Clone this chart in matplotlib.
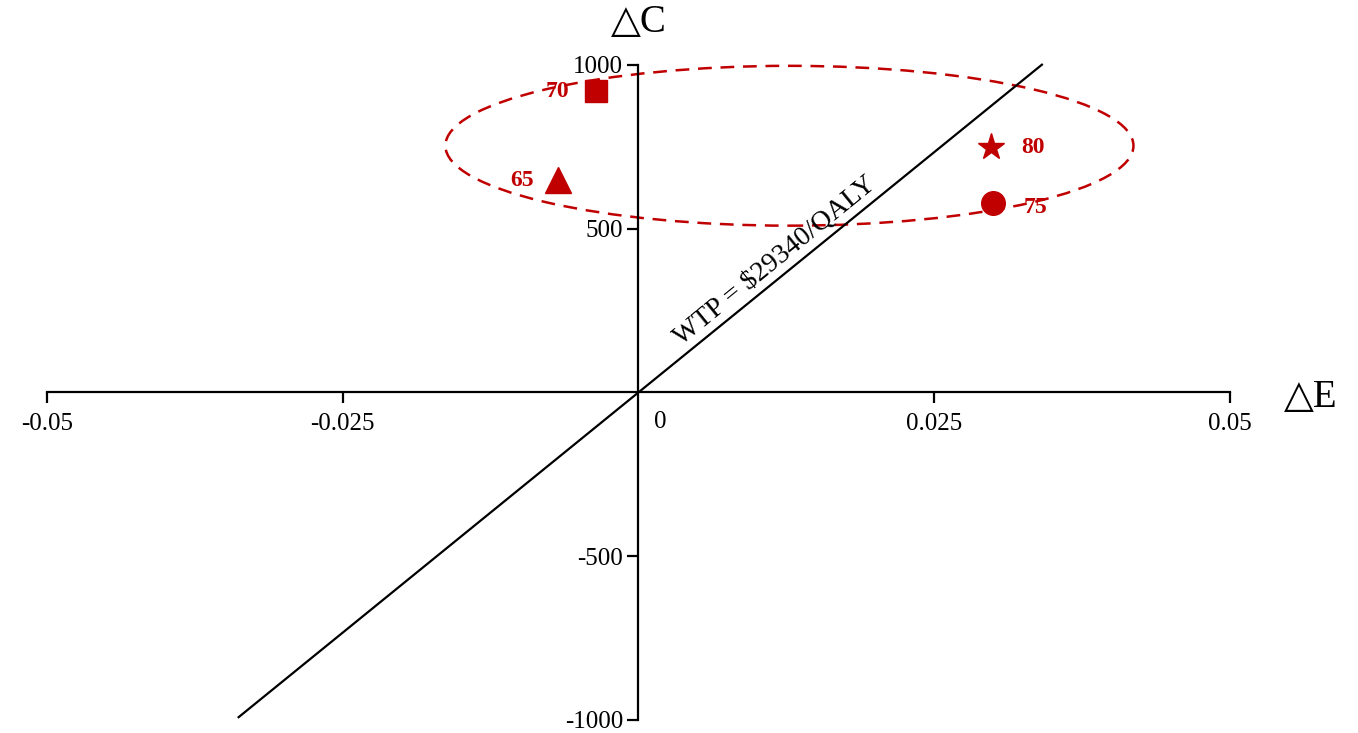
import matplotlib
matplotlib.use('Agg')
import matplotlib.pyplot as plt
from matplotlib.patches import Ellipse

plt.rcParams['font.family'] = ['Liberation Serif', 'DejaVu Sans']

# age groups: incremental effect (QALY) and incremental cost
ages = ['65', '70', '75', '80']
delta_e = [-0.0068, -0.0036, 0.0300, 0.0298]
delta_c = [648, 920, 578, 749]
markers = ['^', 's', 'o', '*']
msizes = [19, 16, 17, 20]
label_off = [(-26, 0), (-28, 0), (30, -3), (30, 0)]

wtp = 29340
wtp_x = [-0.0338, 0.0341]

xticks = [-0.05, -0.025, 0.025, 0.05]
xticklabels = ['-0.05', '-0.025', '0.025', '0.05']
yticks = [-1000, -500, 500, 1000]
yticklabels = ['-1000', '-500', '500', '1000']

red = '#C00000'

fig = plt.figure(figsize=(13.58, 7.33), dpi=100)
ax = fig.add_axes([0, 0, 1, 1])
ax.set_xlim(-0.05397, 0.06082)
ax.set_ylim(-1040, 1198)

for s in ['top', 'right']:
    ax.spines[s].set_visible(False)
ax.spines['left'].set_position(('data', 0))
ax.spines['bottom'].set_position(('data', 0))
ax.spines['left'].set_bounds(-1000, 1000)
ax.spines['bottom'].set_bounds(-0.05, 0.05)
ax.spines['left'].set_linewidth(1.6)
ax.spines['bottom'].set_linewidth(1.6)

ax.set_xticks(xticks)
ax.set_xticklabels(xticklabels)
ax.set_yticks(yticks)
ax.set_yticklabels(yticklabels)
ax.tick_params(axis='both', direction='out', length=8, width=1.6, labelsize=18, pad=3)
ax.tick_params(axis='x', pad=7)
ax.text(0.0013, -90, '0', fontsize=18, ha='left', va='center')

# WTP threshold line
ax.plot(wtp_x, [x * wtp for x in wtp_x], color='k', lw=1.6)
ax.text(0.01158, 402, 'WTP = $29340/QALY', rotation=39.2, rotation_mode='anchor',
        ha='center', va='center', fontsize=20)

# ellipse around the four points
ell = Ellipse((0.01276, 753), 0.05816, 488, fill=False, edgecolor=red,
              lw=1.8, ls=(0, (5.5, 3.5)))
ax.add_patch(ell)

for a, x, y, m, ms, off in zip(ages, delta_e, delta_c, markers, msizes, label_off):
    ax.plot(x, y, marker=m, color=red, markersize=ms, ls='none')
    ax.annotate(a, (x, y), xytext=off, textcoords='offset points', color=red,
                fontsize=17, fontweight='bold', ha='center', va='center')

ax.text(0, 1128, '△C', fontsize=28, ha='center', va='center')
ax.text(0.0568, -15, '△E', fontsize=28, ha='center', va='center')

fig.savefig('out.png', dpi=100)
